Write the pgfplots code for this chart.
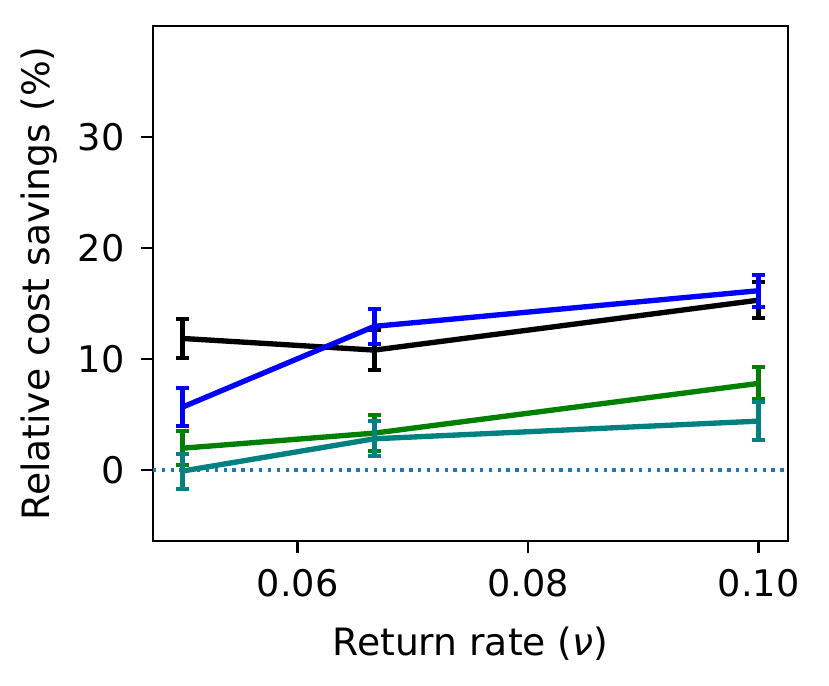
\documentclass[border=0pt]{standalone}
\usepackage{fontspec}
\setmainfont{DejaVu Sans}
\usepackage{pgfplots}
\pgfplotsset{compat=1.18}
\definecolor{mpgreen}{RGB}{0,128,0}
\definecolor{mpteal}{RGB}{0,128,128}
\definecolor{tabblue}{HTML}{1F77B4}
\begin{document}
\fontsize{11}{13}\selectfont
\begin{tikzpicture}
\path[use as bounding box] (-45.9pt,-43.5pt) rectangle (202.8pt,162.3pt);
\begin{axis}[
  at={(0,0)}, anchor=south west,
  width=190.5pt, height=154.5pt, scale only axis,
  xmin=0.04745, xmax=0.10255, ymin=-6.4, ymax=40,
  xtick={0.06,0.08,0.1}, xticklabels={0.06,0.08,0.10},
  ytick={0,10,20,30},
  tick align=outside, major tick length=3.5pt,
  xtick pos=bottom, ytick pos=left,
  tick style={line width=0.8pt, black},
  axis line style={line width=0.8pt},
  /pgf/number format/assume math mode=true,
  ticklabel style={font=\fontsize{11}{13}\selectfont},
  xticklabel style={yshift=-1.2pt},
  yticklabel style={xshift=-1.2pt},
  label style={font=\fontsize{11.3}{13.5}\selectfont},
  xlabel style={yshift=-1.5pt},
  ylabel style={yshift=-1.5pt},
  xlabel={Return rate ({\itshape ν})},
  ylabel={Relative cost savings (\%)},
  every axis plot/.append style={line width=1.6pt},
  error bars/error bar style={line width=1.6pt},
  error bars/error mark options={rotate=90, mark size=2pt, line width=1.2pt},
  clip=false,
]
\addplot[tabblue, line width=1pt, dash pattern=on 1pt off 1.65pt] coordinates {(0.04745,0) (0.10255,0)};
\addplot[black, error bars/.cd, y dir=both, y explicit] coordinates {
 (0.05,11.85) +- (0,1.74)
 (0.066667,10.8) +- (0,1.78)
 (0.1,15.3) +- (0,1.63)
};
\addplot[blue, error bars/.cd, y dir=both, y explicit] coordinates {
 (0.05,5.66) +- (0,1.72)
 (0.066667,12.94) +- (0,1.56)
 (0.1,16.15) +- (0,1.43)
};
\addplot[mpgreen, error bars/.cd, y dir=both, y explicit] coordinates {
 (0.05,1.96) +- (0,1.53)
 (0.066667,3.32) +- (0,1.63)
 (0.1,7.8) +- (0,1.44)
};
\addplot[mpteal, error bars/.cd, y dir=both, y explicit] coordinates {
 (0.05,-0.1) +- (0,1.57)
 (0.066667,2.81) +- (0,1.57)
 (0.1,4.4) +- (0,1.68)
};
\end{axis}
\end{tikzpicture}
\end{document}
